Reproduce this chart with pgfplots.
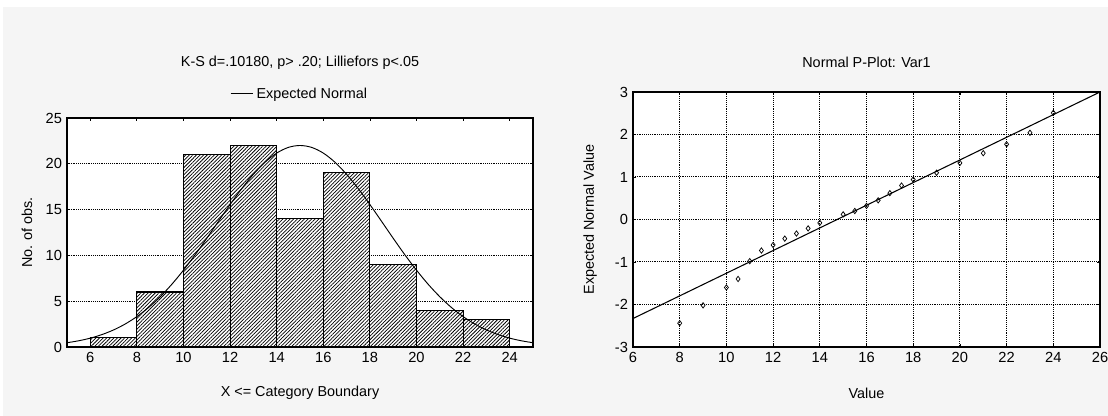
\documentclass[border=0pt]{standalone}
\usepackage{pgfplots}
\pgfplotsset{compat=1.18}
\usepackage{fontspec}
\setmainfont{Liberation Sans}
\usetikzlibrary{patterns.meta}
\pgfplotsset{
  common/.style={
    scale only axis, anchor=south west,
    tick align=inside, major tick length=2.5pt,
    axis line style={line width=0.9pt},
    every tick/.style={black, line width=0.6pt},
    major grid style={black, densely dotted, line width=0.75pt},
    axis background/.style={fill=white},
    /pgf/number format/assume math mode=true,
    tick label style={font=\fontsize{11}{12}\selectfont},
    label style={font=\fontsize{10.8}{12}\selectfont},
    title style={font=\fontsize{10.8}{12}\selectfont, anchor=center},
  }
}
\begin{document}
\fontsize{10.8}{12.6}\selectfont
\begin{tikzpicture}
\path[use as bounding box] (0,0) rectangle (831pt,312pt);
\fill[black!4] (2.25pt,0) rectangle (831pt,306.75pt);
\begin{axis}[common,
  at={(50.25pt,51.75pt)}, width=349.5pt, height=171.75pt,
  xmin=5, xmax=25, ymin=0, ymax=25,
  xtick={6,8,...,24}, ytick={0,5,...,25},
  ymajorgrids,
  title={K-S d=.10180, p> .20; Lilliefors p<.05},
  title style={at={(0.5,1.205)}},
  xlabel={X <= Category Boundary},
  ylabel={No. of obs.},
  xlabel style={at={(axis description cs:0.5,-0.2)}, anchor=center},
  ylabel style={at={(axis description cs:-0.086,0.5)}, anchor=center},
  legend style={at={(0.5,1.105)}, anchor=center, draw=none, fill=none,
    font=\fontsize{10.8}{12}\selectfont},
  legend cell align=left,
]
\addplot[ybar, bar width=2, bar shift=0pt, draw=black, line width=0.8pt, fill=white,
  postaction={pattern={Lines[angle=45,distance=1.9pt,line width=0.55pt]}}, forget plot]
coordinates {(7,1) (9,6) (11,21) (13,22) (15,14) (17,19) (19,9) (21,4) (23,3)};
\addplot[black, line width=0.7pt, smooth, no marks] coordinates {
(5,0.465) (5.5,0.677) (6,0.967) (6.5,1.355) (7,1.862) (7.5,2.512) (8,3.322)
(8.5,4.310) (9,5.487) (9.5,6.849) (10,8.386) (10.5,10.07) (11,11.87) (11.5,13.72)
(12,15.55) (12.5,17.29) (13,18.85) (13.5,20.17) (14,21.17) (14.5,21.79) (15,22)
(15.5,21.79) (16,21.17) (16.5,20.17) (17,18.85) (17.5,17.29) (18,15.55) (18.5,13.72)
(19,11.87) (19.5,10.07) (20,8.386) (20.5,6.849) (21,5.487) (21.5,4.310) (22,3.322)
(22.5,2.512) (23,1.862) (23.5,1.355) (24,0.967) (24.5,0.677) (25,0.465)};
\addlegendentry{Expected Normal}
\end{axis}
\begin{axis}[common,
  at={(474.75pt,51.75pt)}, width=350.25pt, height=191.25pt,
  xmin=6, xmax=26, ymin=-3, ymax=3,
  xtick={6,8,...,26}, ytick={-3,-2,...,3},
  grid=major,
  title={Normal P-Plot: Var1},
  title style={at={(0.5,1.086)}},
  xlabel={Value},
  ylabel={Expected Normal Value},
  xlabel style={at={(axis description cs:0.5,-0.18)}, anchor=center},
  ylabel style={at={(axis description cs:-0.092,0.5)}, anchor=center},
]
\addplot[black, line width=0.8pt, no marks] coordinates {(6,-2.33) (26,3.0)};
\addplot[only marks, mark=diamond, mark size=2pt, black, mark options={line width=0.55pt, fill=white}] coordinates {
(8,-2.44) (9,-2.02) (10,-1.60) (10.5,-1.40) (11,-0.98) (11.5,-0.73) (12,-0.60)
(12.5,-0.45) (13,-0.33) (13.5,-0.21) (14,-0.08) (15,0.12) (15.5,0.20) (16,0.32)
(16.5,0.45) (17,0.62) (17.5,0.80) (18,0.94) (19,1.10) (20,1.33) (21,1.56)
(22,1.77) (23,2.04) (24,2.51)};
\end{axis}
\end{tikzpicture}
\end{document}
